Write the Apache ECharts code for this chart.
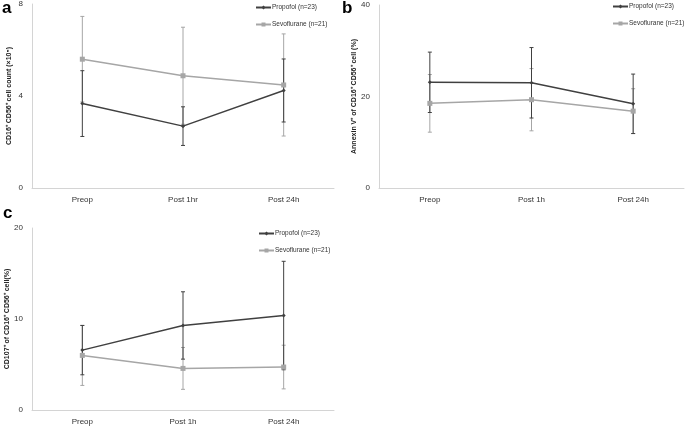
<!DOCTYPE html>
<html lang="en">
<head>
    <meta charset="UTF-8">
    <title>NK cells - propofol vs sevoflurane</title>
    <style>
        html, body {
            margin: 0;
            padding: 0;
            background: #fff;
        }
    </style>
</head>
<body>
<div id="main" style="width: 685px;height:426px;"></div>

<script src="https://cdn.jsdelivr.net/npm/echarts@6/dist/echarts.min.js"></script>
<script>
    // categories
    const catsA = ['Preop', 'Post 1hr', 'Post 24h'];
    const catsB = ['Preop', 'Post 1h', 'Post 24h'];
    const catsC = ['Preop', 'Post 1h', 'Post 24h'];

    // panel a: CD16+ CD56+ cell count (x10^5)
    const propofolA = [3.67, 2.69, 4.24];
    const propofolSdA = [1.43, 0.84, 1.37];
    const sevoA = [5.6, 4.88, 4.48];
    const sevoSdA = [1.86, 2.11, 2.22];

    // panel b: Annexin V+ (%)
    const propofolB = [23.1, 23.0, 18.4];
    const propofolSdB = [6.6, 7.7, 6.5];
    const sevoB = [18.5, 19.3, 16.8];
    const sevoSdB = [6.3, 6.8, 4.9];

    // panel c: CD107+ (%)
    const propofolC = [6.58, 9.29, 10.38];
    const propofolSdC = [2.71, 3.7, 5.96];
    const sevoC = [6.0, 4.57, 4.72];
    const sevoSdC = [3.3, 2.3, 2.4];

    // y ticks
    const yTicksA = [0, 4, 8];
    const yTicksB = [0, 20, 40];
    const yTicksC = [0, 10, 20];

    const PROP = 'Propofol (n=23)';
    const SEVO = 'Sevoflurane (n=21)';
    const dark = '#404040';
    const light = '#a6a6a6';
    const font = 'Liberation Sans';

    function errData(mean, sd) {
        return mean.map((m, i) => [i, m - sd[i], m + sd[i]]);
    }

    function errSeries(idx, mean, sd, color, z) {
        return {
            type: 'custom',
            name: 'err' + idx + color,
            xAxisIndex: idx,
            yAxisIndex: idx,
            z: z,
            silent: true,
            data: errData(mean, sd),
            renderItem(params, api) {
                let lo = api.coord([api.value(0), api.value(1)]);
                let hi = api.coord([api.value(0), api.value(2)]);
                let w = 2;
                let st = {stroke: color, lineWidth: 1};
                return {
                    type: 'group',
                    children: [
                        {type: 'line', shape: {x1: hi[0], y1: hi[1], x2: lo[0], y2: lo[1]}, style: st},
                        {type: 'line', shape: {x1: hi[0] - w, y1: hi[1], x2: hi[0] + w, y2: hi[1]}, style: st},
                        {type: 'line', shape: {x1: lo[0] - w, y1: lo[1], x2: lo[0] + w, y2: lo[1]}, style: st}
                    ]
                };
            }
        };
    }

    function lineSeries(idx, name, data, color, symbol, size, z) {
        return {
            type: 'line',
            name: name,
            xAxisIndex: idx,
            yAxisIndex: idx,
            data: data,
            z: z,
            symbol: symbol,
            symbolSize: size,
            lineStyle: {color: color, width: 1.5},
            itemStyle: {color: color},
            emphasis: {disabled: true}
        };
    }

    function xAxis(idx, cats) {
        return {
            type: 'category',
            gridIndex: idx,
            data: cats,
            axisLine: {lineStyle: {color: '#d4d4d4'}},
            axisTick: {show: false},
            axisLabel: {color: '#333', fontSize: 8, fontFamily: font, margin: 8}
        };
    }

    function yAxis(idx, ticks, name) {
        return {
            type: 'value',
            gridIndex: idx,
            min: ticks[0],
            max: ticks[ticks.length - 1],
            interval: ticks[1] - ticks[0],
            name: name,
            nameLocation: 'middle',
            nameGap: 19,
            nameTextStyle: {fontSize: 7, fontWeight: 'bold', color: '#222', fontFamily: font},
            axisLine: {show: true, lineStyle: {color: '#d4d4d4'}},
            axisTick: {show: false},
            splitLine: {show: false},
            axisLabel: {color: '#333', fontSize: 8, fontFamily: font, margin: 9}
        };
    }

    function legend(left, top) {
        return {
            data: [PROP, SEVO],
            orient: 'vertical',
            left: left,
            top: top,
            padding: 0,
            itemWidth: 15,
            itemHeight: 5,
            itemGap: 10,
            selectedMode: false,
            textStyle: {fontSize: 6.5, color: '#333', fontFamily: font, padding: [0, 0, 0, -4]}
        };
    }

    const option = {
        animation: false,
        backgroundColor: '#fff',
        grid: [
            {left: 32, top: 4, width: 302, height: 184},
            {left: 379, top: 5, width: 305, height: 183},
            {left: 32, top: 228, width: 302, height: 183}
        ],
        xAxis: [xAxis(0, catsA), xAxis(1, catsB), xAxis(2, catsC)],
        yAxis: [
            yAxis(0, yTicksA, 'CD16⁺ CD56⁺ cell count (×10⁵)'),
            yAxis(1, yTicksB, 'Annexin V⁺ of CD16⁺ CD56⁺ cell (%)'),
            yAxis(2, yTicksC, 'CD107⁺ of CD16⁺ CD56⁺ cell(%)')
        ],
        legend: [legend(255, 4), legend(612, 3), legend(258, 230)],
        graphic: [
            {type: 'text', left: 2, top: 0, style: {text: 'a', font: 'bold 17px ' + font, fill: '#000'}},
            {type: 'text', left: 342, top: 0, style: {text: 'b', font: 'bold 17px ' + font, fill: '#000'}},
            {type: 'text', left: 3, top: 205, style: {text: 'c', font: 'bold 17px ' + font, fill: '#000'}}
        ],
        series: [
            errSeries(0, sevoA, sevoSdA, light, 1),
            errSeries(0, propofolA, propofolSdA, dark, 2),
            lineSeries(0, SEVO, sevoA, light, 'rect', 5, 3),
            lineSeries(0, PROP, propofolA, dark, 'diamond', 4, 4),

            errSeries(1, sevoB, sevoSdB, light, 1),
            errSeries(1, propofolB, propofolSdB, dark, 2),
            lineSeries(1, SEVO, sevoB, light, 'rect', 5, 3),
            lineSeries(1, PROP, propofolB, dark, 'diamond', 4, 4),

            errSeries(2, sevoC, sevoSdC, light, 1),
            errSeries(2, propofolC, propofolSdC, dark, 2),
            lineSeries(2, SEVO, sevoC, light, 'rect', 5, 3),
            lineSeries(2, PROP, propofolC, dark, 'diamond', 4, 4)
        ]
    };

    let chart = echarts.init(document.getElementById('main'));
    chart.setOption(option);
</script>
</body>
</html>
